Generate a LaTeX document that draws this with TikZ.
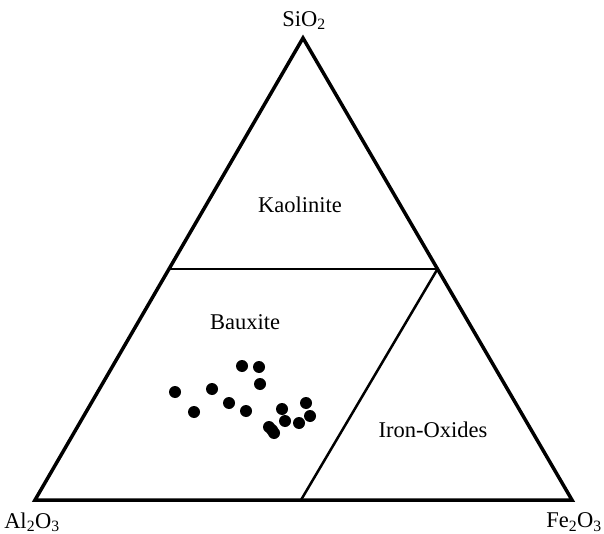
\documentclass[tikz,border=0pt]{standalone}
\usepackage{fontspec}
\setmainfont{Liberation Serif}
\usepackage{tikz}
\usetikzlibrary{calc}

\begin{document}
\begin{tikzpicture}[x=1pt, y=-1pt,
    dot/.style={circle, fill=black, inner sep=0pt, minimum size=12pt},
    lbl/.style={font=\fontsize{22.5}{27}\selectfont, inner sep=0pt}]
    \useasboundingbox (0,0) rectangle (604,534);

    \coordinate (sio) at (303,38);
    \coordinate (alo) at (35,500);
    \coordinate (feo) at (572,500);

    \coordinate (kl) at ($(alo)!0.5!(sio)$);
    \coordinate (kr) at ($(feo)!0.5!(sio)$);
    \coordinate (bm) at (301,500);

    \draw[line width=3.5pt, line join=miter] (sio) -- (alo) -- (feo) -- cycle;
    \draw[line width=2.5pt] (kl) -- (kr);
    \draw[line width=2.5pt] (kr) -- (bm);

    \node[lbl, anchor=south] (tsio) at ($(sio) + (1,-8)$) {SiO\textsubscript{2}};
    \node[lbl] (talo) at ($(alo) + (-3,22)$) {Al\textsubscript{2}O\textsubscript{3}};
    \node[lbl] (tfeo) at ($(feo) + (2,22)$) {Fe\textsubscript{2}O\textsubscript{3}};

    \node[lbl] (kao) at (300,205) {Kaolinite};
    \node[lbl] (bau) at (245,322) {Bauxite};
    \node[lbl] (iro) at (433,430) {Iron-Oxides};

    \node[dot] (p1) at (175,392) {};
    \node[dot] (p2) at (194,412) {};
    \node[dot] (p3) at (212,389) {};
    \node[dot] (p4) at (242,366) {};
    \node[dot] (p5) at (259,367) {};
    \node[dot] (p6) at (260,384) {};
    \node[dot] (p7) at (229,403) {};
    \node[dot] (p8) at (246,411) {};
    \node[dot] (p9) at (282,409) {};
    \node[dot] (p10) at (306,403) {};
    \node[dot] (p11) at (310,416) {};
    \node[dot] (p12) at (285,421) {};
    \node[dot] (p13) at (299,423) {};
    \node[dot] (p14) at (269,427) {};
    \node[dot] (p15) at (274,433) {};
    \node[dot] (p16) at (272,430) {};
\end{tikzpicture}
\end{document}
